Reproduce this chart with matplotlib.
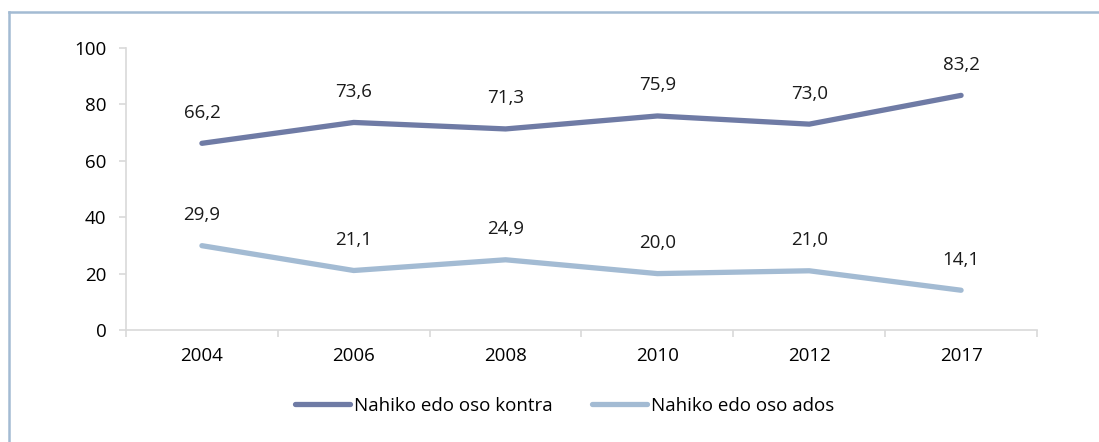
import matplotlib.pyplot as plt
from matplotlib.lines import Line2D

years = ["2004", "2006", "2008", "2010", "2012", "2017"]
kontra = [66.2, 73.6, 71.3, 75.9, 73.0, 83.2]
ados = [29.9, 21.1, 24.9, 20.0, 21.0, 14.1]
names = ["Nahiko edo oso kontra", "Nahiko edo oso ados"]
colors = ["#6f7ba5", "#a3bbd3"]

plt.rcParams['font.family'] = ['Open Sans', 'DejaVu Sans']
plt.rcParams['font.size'] = 13.5

fig = plt.figure(figsize=(10.99, 4.42), dpi=100)
ax = fig.add_axes([126/1099, 1-330/442, (1037-126)/1099, (330-48)/442])

x = list(range(len(years)))
for vals, name, c in zip([kontra, ados], names, colors):
    ax.plot(x, vals, color=c, lw=3.8, solid_capstyle='round', label=name)
    for xi, v in zip(x, vals):
        ax.annotate(f"{v:.1f}".replace(".", ","), (xi, v), xytext=(0, 22),
                    textcoords='offset points', ha='center', va='center',
                    fontsize=13.5, color='#1a1a1a')

ax.set_xlim(-0.5, len(years) - 0.5)
ax.set_ylim(0, 100)
ax.set_yticks([0, 20, 40, 60, 80, 100])
ax.set_xticks(x)
ax.set_xticklabels(years)
ax.set_xticks([i - 0.5 for i in range(len(years) + 1)], minor=True)
ax.tick_params(axis='x', which='major', length=0, pad=12)
ax.tick_params(axis='x', which='minor', length=5, color='#d9d9d9', width=1.2)
ax.tick_params(axis='y', length=5, color='#d9d9d9', width=1.2, pad=9)
for s in ['top', 'right']:
    ax.spines[s].set_visible(False)
for s in ['left', 'bottom']:
    ax.spines[s].set_color('#d9d9d9')
    ax.spines[s].set_linewidth(1.2)

handles = [Line2D([0], [0], color=c, lw=3.8, solid_capstyle='round') for c in colors]
fig.legend(handles, names, loc='center', bbox_to_anchor=(565/1099, 1-406/442),
           ncol=2, frameon=False, handlelength=2.9, handletextpad=0.25,
           columnspacing=2.1, fontsize=13.5)

# outer frame (top and left edges visible)
fig.add_artist(Line2D([8.5/1099, 1], [1-11.5/442, 1-11.5/442], color='#a3bbd3', lw=1.8,
                      transform=fig.transFigure))
fig.add_artist(Line2D([8.5/1099, 8.5/1099], [0, 1-11.5/442], color='#a3bbd3', lw=1.8,
                      transform=fig.transFigure))

plt.savefig("out.png", dpi=100)
plt.close()
